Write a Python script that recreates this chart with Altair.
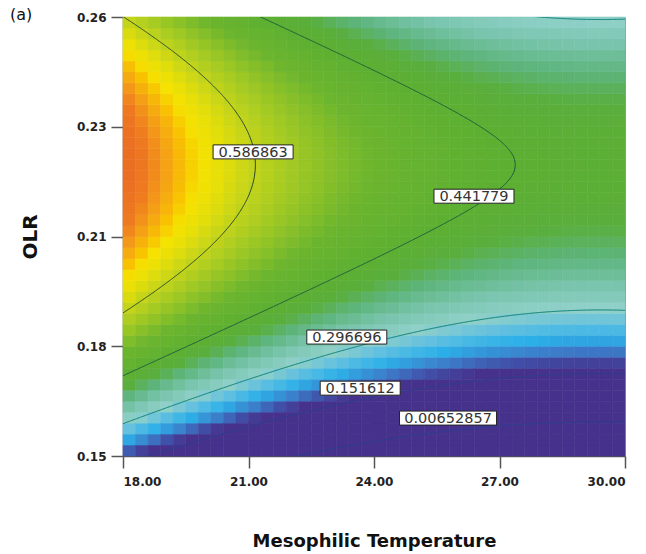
import numpy as np
import pandas as pd
import altair as alt

# Factor ranges
temp_limits = [18.0, 30.0]
olr_limits = [0.15, 0.26]

# Quadratic response-surface model in coded units (-1 .. 1):
# y = b0 + bT*t + bO*o + bTT*t^2 + bOO*o^2 + bTO*t*o
coef_b0 = 0.4658
coef_bT = -0.1475
coef_bO = 0.2027
coef_bTT = 0.0817
coef_bOO = -0.31
coef_bTO = 0.0

# Contour levels and their printed labels
contour_levels = [0.00652857, 0.151612, 0.296696, 0.441779, 0.586863]
contour_labels = ["0.00652857", "0.151612", "0.296696", "0.441779", "0.586863"]
label_temp = [25.77, 23.67, 23.35, 26.39, 21.11]
label_olr = [0.1595, 0.1670, 0.1798, 0.2151, 0.2262]

# Axis ticks
x_ticks = [18, 21, 24, 27, 30]
y_ticks = [0.15, 0.1775, 0.205, 0.2325, 0.26]
y_tick_labels = ["0.15", "0.18", "0.21", "0.23", "0.26"]

# Colour ramp for the response
color_stops = [0.17, 0.19, 0.21, 0.24, 0.27, 0.30, 0.34, 0.38, 0.41, 0.44,
               0.50, 0.56, 0.59, 0.62, 0.64, 0.655, 0.68, 0.70, 0.725]
color_range = ["#46328c", "#4050a8", "#3c7cc8", "#2cb0e8", "#62c0e0",
               "#8fd0c8", "#78c4ac", "#5cb47a", "#5aae3c", "#5caf32",
               "#6cb52e", "#a6cb22", "#c4d41a", "#e6df08", "#f6e200",
               "#f8c400", "#f49c18", "#ee7a20", "#ea6c24"]

N_COLS, N_ROWS = 40, 40

t_mid = (temp_limits[0] + temp_limits[1]) / 2
t_half = (temp_limits[1] - temp_limits[0]) / 2
o_mid = (olr_limits[0] + olr_limits[1]) / 2
o_half = (olr_limits[1] - olr_limits[0]) / 2


def response(t, o):
    return (coef_b0 + coef_bT * t + coef_bO * o + coef_bTT * t * t
            + coef_bOO * o * o + coef_bTO * t * o)


# ---- heat-map cells ----
tx = np.linspace(temp_limits[0], temp_limits[1], N_COLS + 1)
oy = np.linspace(olr_limits[0], olr_limits[1], N_ROWS + 1)
rows = []
for i in range(N_COLS):
    for j in range(N_ROWS):
        tc = ((tx[i] + tx[i + 1]) / 2 - t_mid) / t_half
        oc = ((oy[j] + oy[j + 1]) / 2 - o_mid) / o_half
        rows.append({"T0": tx[i], "T1": tx[i + 1], "O0": oy[j], "O1": oy[j + 1],
                     "v": response(tc, oc)})
cells = pd.DataFrame(rows)


# ---- contour lines (solve the quadratic in o for each t) ----
def roots(t, level):
    A = coef_bOO
    B = coef_bO + coef_bTO * t
    C = coef_b0 + coef_bT * t + coef_bTT * t * t - level
    D = B * B - 4 * A * C
    return A, B, D


def nose(t_in, t_out, level):
    for _ in range(60):
        tm = (t_in + t_out) / 2
        if roots(tm, level)[2] >= 0:
            t_in = tm
        else:
            t_out = tm
    A, B, _ = roots(t_in, level)
    return t_in, -B / (2 * A)


ts = np.linspace(-1, 1, 601)
line_rows = []
for level, lab in zip(contour_levels, contour_labels):
    A, B, D = roots(ts, level)
    ok = D >= 0
    if not ok.any():
        continue
    idx = np.where(ok)[0]
    sq = np.sqrt(np.where(ok, D, 0))
    lo = (-B + sq) / (2 * A)
    hi = (-B - sq) / (2 * A)
    seg_t = ts[idx]
    lower = list(zip(seg_t, lo[idx]))
    upper = list(zip(seg_t, hi[idx]))
    right_open = idx[-1] < len(ts) - 1
    left_open = idx[0] > 0
    if right_open or left_open:
        path = []
        if left_open:
            path.append(nose(ts[idx[0]], ts[idx[0] - 1], level))
        path += lower
        if right_open:
            path.append(nose(ts[idx[-1]], ts[idx[-1] + 1], level))
        path += upper[::-1]
        if left_open:
            path.append(path[0])
        paths = [path]
    else:
        paths = [lower, upper]
    for k, p in enumerate(paths):
        for n, (tt, oo) in enumerate(p):
            line_rows.append({"T": t_mid + t_half * tt, "O": o_mid + o_half * oo,
                              "level": lab, "path": f"{lab}-{k}", "n": n})
lines = pd.DataFrame(line_rows)

labels = pd.DataFrame({"label": contour_labels, "T": label_temp, "O": label_olr})
labels["nchar"] = labels["label"].str.len()

# ---- encodings ----
x_scale = alt.Scale(domain=temp_limits, nice=False, zero=False)
y_scale = alt.Scale(domain=olr_limits, nice=False, zero=False)

y_label_expr = "''"
for v, lab in zip(y_ticks, y_tick_labels):
    y_label_expr = f"abs(datum.value - {v}) < 1e-6 ? '{lab}' : ({y_label_expr})"

x_axis = alt.Axis(values=x_ticks, format=".2f", title="Mesophilic Temperature",
                  titlePadding=45, labelPadding=8)
y_axis = alt.Axis(values=y_ticks, labelExpr=y_label_expr, title="OLR",
                  titleFontSize=20, titlePadding=36, labelPadding=5)

color_scale = alt.Scale(type="linear", domain=color_stops, range=color_range,
                        clamp=True, interpolate="rgb")

heat = alt.Chart(cells).mark_rect(strokeWidth=0.6).encode(
    x=alt.X("T0:Q", scale=x_scale, axis=x_axis),
    x2="T1:Q",
    y=alt.Y("O0:Q", scale=y_scale, axis=y_axis),
    y2="O1:Q",
    fill=alt.Fill("v:Q", scale=color_scale, legend=None),
    stroke=alt.Stroke("v:Q", scale=color_scale, legend=None),
)

line_colors = {"0.00652857": "#2c3f8f", "0.151612": "#2c3f8f",
               "0.296696": "#0b7f78", "0.441779": "#1e5c3c", "0.586863": "#2d4a2a"}
line_widths = {"0.00652857": 1.0, "0.151612": 1.0, "0.296696": 2.0,
               "0.441779": 1.2, "0.586863": 1.2}

contours = alt.Chart(lines).mark_line(clip=True).encode(
    x=alt.X("T:Q", scale=x_scale, axis=x_axis),
    y=alt.Y("O:Q", scale=y_scale, axis=y_axis),
    detail="path:N",
    order="n:Q",
    color=alt.Color("level:N", legend=None,
                    scale=alt.Scale(domain=list(line_colors), range=list(line_colors.values()))),
    strokeWidth=alt.StrokeWidth("level:N", legend=None,
                                scale=alt.Scale(domain=list(line_widths), range=list(line_widths.values()))),
)

# label boxes: one layer per box width
box_layers = []
for nch in sorted(labels["nchar"].unique()):
    w = 8.5 * nch + 12
    h = 14 / w
    shape = f"M-1,-{h:.4f}L1,-{h:.4f}L1,{h:.4f}L-1,{h:.4f}Z"
    box_layers.append(
        alt.Chart(labels).transform_filter(alt.datum.nchar == int(nch))
        .mark_point(shape=shape, size=w * w, filled=True, fill="white",
                    stroke="#222222", strokeWidth=1, opacity=1)
        .encode(x=alt.X("T:Q", scale=x_scale, axis=x_axis),
                y=alt.Y("O:Q", scale=y_scale, axis=y_axis))
    )

label_text = alt.Chart(labels).mark_text(
    font="DejaVu Sans", fontSize=14.5, color="#333333", align="center", baseline="middle", dy=1
).encode(
    x=alt.X("T:Q", scale=x_scale, axis=x_axis),
    y=alt.Y("O:Q", scale=y_scale, axis=y_axis),
    text="label:N",
)

chart = alt.layer(heat, contours, *box_layers, label_text).properties(
    width=502, height=439,
    background="white",
    autosize=alt.AutoSizeParams(type="none"),
    padding={"left": 123, "top": 17, "right": 21, "bottom": 98},
    title=alt.TitleParams(text="(a)", anchor="start", frame="group", dx=-113,
                          offset=0, baseline="top", dy=12,
                          font="DejaVu Sans", fontSize=16, fontWeight="normal",
                          color="#111111"),
).configure_view(
    stroke="#999999", strokeWidth=1
).configure_axis(
    labelFont="DejaVu Sans", labelFontWeight="bold", labelFontSize=12, labelColor="#222222",
    titleFont="DejaVu Sans", titleFontWeight="bold", titleFontSize=18, titleColor="#111111",
    tickSize=12, tickColor="#555555", tickWidth=1.5, domainColor="#555555", domainWidth=1.5,
    grid=False,
)

chart.save("out.html", embed_options={"renderer": "svg", "actions": False})
